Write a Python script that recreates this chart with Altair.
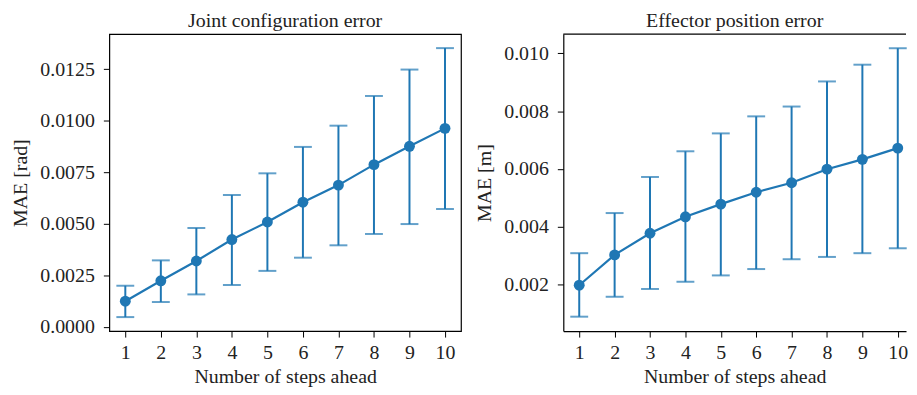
import altair as alt
import pandas as pd

steps = [1, 2, 3, 4, 5, 6, 7, 8, 9, 10]

joint_mean = [0.00125, 0.00224, 0.00320, 0.00424, 0.00509, 0.00605, 0.00688, 0.00787, 0.00876, 0.00963]
joint_upper = [0.00200, 0.00323, 0.00480, 0.00640, 0.00745, 0.00873, 0.00976, 0.01120, 0.01248, 0.01352]
joint_lower = [0.00048, 0.00121, 0.00158, 0.00204, 0.00272, 0.00336, 0.00396, 0.00451, 0.00499, 0.00572]

eff_mean = [0.00197, 0.00302, 0.00377, 0.00434, 0.00478, 0.00519, 0.00552, 0.00599, 0.00633, 0.00672]
eff_upper = [0.00308, 0.00447, 0.00572, 0.00661, 0.00723, 0.00782, 0.00816, 0.00903, 0.00961, 0.01018]
eff_lower = [0.00088, 0.00157, 0.00184, 0.00209, 0.00231, 0.00253, 0.00287, 0.00295, 0.00308, 0.00325]

joint_ticks = [0.0, 0.0025, 0.005, 0.0075, 0.01, 0.0125]
eff_ticks = [0.002, 0.004, 0.006, 0.008, 0.010]

COLOR = "#1f77b4"
FONT = "Liberation Serif"
H = 299


def panel(title, ytitle, mean, lo, hi, ydomain, yticks, yfmt, xdomain, width, open_right=False):
    df = pd.DataFrame({"step": steps, "mean": mean, "lo": lo, "hi": hi})
    base = alt.Chart(df)
    x = alt.X("step:Q", scale=alt.Scale(domain=xdomain, nice=False, zero=False),
              axis=alt.Axis(values=steps, title="Number of steps ahead", format="d",
                            labelOverlap=False, domain=open_right))
    y_scale = alt.Scale(domain=ydomain, nice=False, zero=False)
    y_axis = alt.Axis(values=yticks, format=yfmt, title=ytitle, domain=open_right)

    def Y(field):
        return alt.Y(field, scale=y_scale, axis=y_axis)

    rule = base.mark_rule(color=COLOR, strokeWidth=2).encode(
        x=x, y=Y("lo:Q"), y2="hi:Q")
    cap_hi = base.mark_tick(color=COLOR, size=18, thickness=2, orient="horizontal").encode(
        x=x, y=Y("hi:Q"))
    cap_lo = base.mark_tick(color=COLOR, size=18, thickness=2, orient="horizontal").encode(
        x=x, y=Y("lo:Q"))
    line = base.mark_line(color=COLOR, strokeWidth=2.2).encode(x=x, y=Y("mean:Q"))
    pts = base.mark_circle(color=COLOR, size=120, opacity=1).encode(x=x, y=Y("mean:Q"))
    layers = [rule, cap_hi, cap_lo, line, pts]
    props = dict(width=width, height=H,
                 title=alt.TitleParams(title, fontSize=20, font=FONT, fontWeight="normal",
                                       offset=3, color="#222"))
    if open_right:
        top = alt.Chart(pd.DataFrame({"k": [0]})).mark_rule(color="black", strokeWidth=1.2).encode(
            x=alt.value(0), x2=alt.value(width), y=alt.value(0))
        layers.append(top)
        props["view"] = alt.ViewBackground(stroke="transparent")
    return alt.layer(*layers).properties(**props)


left = panel("Joint configuration error", "MAE [rad]", joint_mean, joint_lower, joint_upper,
             [-0.0002, 0.0142], joint_ticks, ".4f", [0.55, 10.45], 354)
right = panel("Effector position error", "MAE [m]", eff_mean, eff_lower, eff_upper,
              [0.00038, 0.01067], eff_ticks, ".3f", [0.55, 10.233], 345, open_right=True)

chart = alt.hconcat(left, right, spacing=12).properties(
    padding={"left": 2, "top": 0, "right": 0, "bottom": 0}
).configure_view(stroke="black", strokeWidth=1.2).configure_axis(
    grid=False, domainColor="black", domainWidth=1.2, tickColor="black", tickSize=6, tickWidth=1,
    labelFont=FONT, labelFontSize=20, labelColor="#222", labelPadding=9, labelOverlap=False,
    titleFont=FONT, titleFontSize=20, titleFontWeight="normal", titleColor="#222", titlePadding=9,
).configure_axisX(labelAngle=0, labelPadding=6, titlePadding=4)

chart.save("out.html", embed_options={"renderer": "svg", "actions": False})
